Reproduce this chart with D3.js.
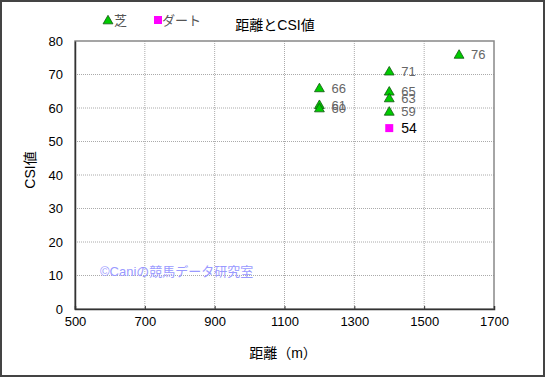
<!DOCTYPE html>
<html><head><meta charset="utf-8">
<script src="https://cdn.jsdelivr.net/npm/d3@7"></script>
<style>body{margin:0;background:#fff}svg{display:block}text{font-family:"Liberation Sans",Arial,"Noto Sans CJK JP",sans-serif}</style>
</head><body>
<svg id="c" width="545" height="377"></svg>
<script>
const turfDist = [1200, 1200, 1200, 1400, 1400, 1400, 1400, 1600];
const turfCSI  = [66, 61, 60, 71, 65, 63, 59, 76];
const dirtDist = [1400];
const dirtCSI  = [54];
const xTicks = [500, 700, 900, 1100, 1300, 1500, 1700];
const yTicks = [0, 10, 20, 30, 40, 50, 60, 70, 80];
const title = "距離とCSI値";
const xTitle = "距離（m）";
const yTitle = "CSI値";
const seriesNames = ["芝", "ダート"];
const watermark = "©Caniの競馬データ研究室";

const svg = d3.select("#c");
const W = 545, H = 377;
const L = 75, R = 494, T = 41, B = 309;
const x = d3.scaleLinear().domain([500, 1700]).range([L, R]);
const y = d3.scaleLinear().domain([0, 80]).range([B, T]);

svg.append("rect").attr("x", 1).attr("y", 1).attr("width", W - 2).attr("height", H - 2)
  .attr("fill", "#fff").attr("stroke", "#444").attr("stroke-width", 2);

// grid
svg.append("g").selectAll("line").data(xTicks.slice(1, -1)).join("line")
  .attr("x1", d => x(d)).attr("x2", d => x(d)).attr("y1", T).attr("y2", B)
  .attr("stroke", "#aaa").attr("stroke-dasharray", "1,1");
svg.append("g").selectAll("line").data(yTicks.slice(1, -1)).join("line")
  .attr("x1", L).attr("x2", R).attr("y1", d => y(d)).attr("y2", d => y(d))
  .attr("stroke", "#aaa").attr("stroke-dasharray", "1,1");

// plot frame
svg.append("rect").attr("x", L).attr("y", T).attr("width", R - L).attr("height", B - T)
  .attr("fill", "none").attr("stroke", "#888").attr("stroke-width", 1.5);

// axes
const xa = svg.append("g").attr("transform", `translate(0,${B})`)
  .call(d3.axisBottom(x).tickValues(xTicks).tickSize(-3).tickPadding(8).tickFormat(d3.format("d")));
const ya = svg.append("g").attr("transform", `translate(${L},0)`)
  .call(d3.axisLeft(y).tickValues(yTicks).tickSize(0).tickPadding(12));
[xa, ya].forEach(a => {
  a.select(".domain").attr("stroke", "#333").attr("stroke-width", 1.5);
  a.selectAll(".tick line").attr("stroke", "#333");
  a.selectAll("text").attr("font-size", 13).attr("fill", "#000");
});

// watermark
svg.append("text").attr("x", 100).attr("y", 276).attr("font-size", 13)
  .attr("fill", "#9a9aff").text(watermark);

// titles
svg.append("text").attr("x", 275).attr("y", 30).attr("text-anchor", "middle")
  .attr("font-size", 14).text(title);
svg.append("text").attr("x", 283).attr("y", 358).attr("text-anchor", "middle")
  .attr("font-size", 14).text(xTitle);
svg.append("text").attr("transform", "translate(35,170) rotate(-90)").attr("text-anchor", "middle")
  .attr("font-size", 14).text(yTitle);

const tri = d3.symbol().type(d3.symbolTriangle).size(42);
const turf = turfDist.map((d, i) => ({d, v: turfCSI[i]}));
const dirt = dirtDist.map((d, i) => ({d, v: dirtCSI[i]}));

const gp = svg.append("g");
gp.selectAll("path").data(turf).join("path")
  .attr("d", tri).attr("transform", p => `translate(${x(p.d)},${y(p.v) + 1})`)
  .attr("fill", "#00cc00").attr("stroke", "#115511").attr("stroke-width", 0.8);
gp.selectAll("rect").data(dirt).join("rect")
  .attr("x", p => x(p.d) - 4).attr("y", p => y(p.v) - 4).attr("width", 8).attr("height", 8)
  .attr("fill", "#ff00ff");

// labels
svg.append("g").selectAll("text").data(turf).join("text")
  .attr("x", p => x(p.d) + 12).attr("y", p => y(p.v) + 5)
  .attr("font-size", 13).attr("fill", "#666").text(p => p.v);
svg.append("g").selectAll("text").data(dirt).join("text")
  .attr("x", p => x(p.d) + 12).attr("y", p => y(p.v) + 5)
  .attr("font-size", 14).attr("fill", "#000").text(p => p.v);

// legend
const lg = svg.append("g");
lg.append("path").attr("d", tri).attr("transform", "translate(108,21)")
  .attr("fill", "#00cc00").attr("stroke", "#115511").attr("stroke-width", 0.8);
lg.append("text").attr("x", 114).attr("y", 25).attr("font-size", 13).attr("fill", "#555").text(seriesNames[0]);
lg.append("rect").attr("x", 154).attr("y", 16).attr("width", 8).attr("height", 8).attr("fill", "#ff00ff");
lg.append("text").attr("x", 162).attr("y", 25).attr("font-size", 13).attr("fill", "#555").text(seriesNames[1]);
</script>
</body></html>
